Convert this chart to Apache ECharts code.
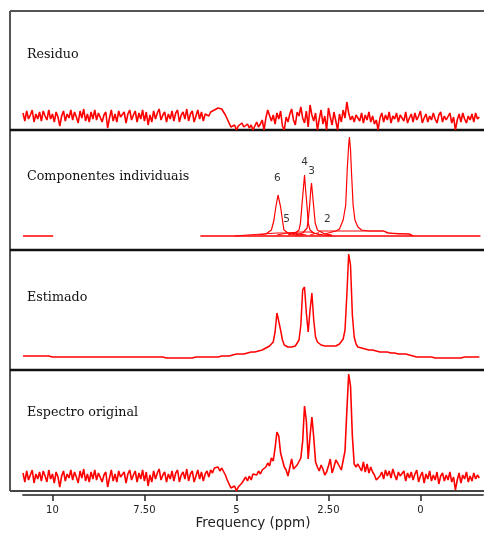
<!DOCTYPE html>
<html>
<head>
<meta charset="utf-8">
<script src="https://cdn.jsdelivr.net/npm/echarts@6/dist/echarts.min.js"></script>
<style>
  html, body { margin: 0; padding: 0; background: #fff; }
  #main { width: 484px; height: 533px; }
</style>
</head>
<body>
<div id="main"></div>
<script>
// ppm grid shared by the sampled spectra (step 0.05)
var ppm = [
  10.8,10.75,10.7,10.65,10.6,10.55,10.5,10.45,10.4,10.35,
  10.3,10.25,10.2,10.15,10.1,10.05,10,9.95,9.9,9.85,
  9.8,9.75,9.7,9.65,9.6,9.55,9.5,9.45,9.4,9.35,
  9.3,9.25,9.2,9.15,9.1,9.05,9,8.95,8.9,8.85,
  8.8,8.75,8.7,8.65,8.6,8.55,8.5,8.45,8.4,8.35,
  8.3,8.25,8.2,8.15,8.1,8.05,8,7.95,7.9,7.85,
  7.8,7.75,7.7,7.65,7.6,7.55,7.5,7.45,7.4,7.35,
  7.3,7.25,7.2,7.15,7.1,7.05,7,6.95,6.9,6.85,
  6.8,6.75,6.7,6.65,6.6,6.55,6.5,6.45,6.4,6.35,
  6.3,6.25,6.2,6.15,6.1,6.05,6,5.95,5.9,5.85,
  5.8,5.75,5.7,5.65,5.6,5.55,5.5,5.45,5.4,5.35,
  5.3,5.25,5.2,5.15,5.1,5.05,5,4.95,4.9,4.85,
  4.8,4.75,4.7,4.65,4.6,4.55,4.5,4.45,4.4,4.35,
  4.3,4.25,4.2,4.15,4.1,4.05,4,3.95,3.9,3.85,
  3.8,3.75,3.7,3.65,3.6,3.55,3.5,3.45,3.4,3.35,
  3.3,3.25,3.2,3.15,3.1,3.05,3,2.95,2.9,2.85,
  2.8,2.75,2.7,2.65,2.6,2.55,2.5,2.45,2.4,2.35,
  2.3,2.25,2.2,2.15,2.1,2.05,2,1.95,1.9,1.85,
  1.8,1.75,1.7,1.65,1.6,1.55,1.5,1.45,1.4,1.35,
  1.3,1.25,1.2,1.15,1.1,1.05,1,0.95,0.9,0.85,
  0.8,0.75,0.7,0.65,0.6,0.55,0.5,0.45,0.4,0.35,
  0.3,0.25,0.2,0.15,0.1,0.05,0,-0.05,-0.1,-0.15,
  -0.2,-0.25,-0.3,-0.35,-0.4,-0.45,-0.5,-0.55,-0.6,-0.65,
  -0.7,-0.75,-0.8,-0.85,-0.9,-0.95,-1,-1.05,-1.1,-1.15,
  -1.2,-1.25,-1.3,-1.35,-1.4,-1.45,-1.5,-1.55,-1.6
];

// Residuo
var residuo = [
  17,9,19,11,15,20,8,16,11,18,9,19,14,10,20,11,16,8,18,13,
  4,14,19,9,16,12,20,10,18,13,7,19,12,21,9,16,8,18,11,20,
  10,17,19,8,15,18,2,12,20,9,16,8,19,13,11,18,7,16,20,10,
  15,19,8,17,11,20,9,18,5,15,8,19,11,17,21,10,15,18,8,16,
  11,19,9,17,20,8,15,18,11,21,9,16,19,8,14,20,11,18,9,16,
  17,14,18,16,20,19,22,24,21,19,15,11,7,3,1,5,0,4,2,7,
  3,1,6,2,5,0,4,8,3,6,10,0,
  12,20,18,9,15,6,17,11,19,4,0,13,8,16,21,10,5,18,14,23,
  12,7,19,3,25,15,9,17,0,11,20,6,14,0,22,13,5,18,9,0,
  16,8,20,12,28,17,10,14,8,15,
  13,9,17,7,15,10,18,8,14,6,10,0,12,17,8,15,10,18,7,14,
  11,17,8,15,13,9,18,7,12,16,8,17,10,14,19,7,12,16,8,14,
  10,17,11,7,15,18,8,14,10,12,17,7,13,0,10,16,8,17,11,7,
  14,10,16,8,17,11,13
];

// Estimado
var estimado = [
  14,14,14,14,14,14,14,14,14,14,14,14,14,14,14,
  13,13,13,13,13,13,13,13,13,13,13,13,13,13,13,13,13,13,13,13,13,
  13,13,13,13,13,13,13,13,13,13,13,13,13,13,13,13,13,13,13,13,13,
  13,13,13,13,13,13,13,13,13,13,13,13,13,13,13,13,13,13,13,13,
  12,12,12,12,12,12,12,12,12,12,12,12,12,12,12,12,12,
  13,13,13,13,13,13,13,13,13,13,13,13,13,13,
  14,14,14,14,14,14,
  15,16,16,16,16,16,16,16,17,17,
  18,18,
  18,18,19,19,20,21,22,23,24,26,
  28,38,57,58,40,30,25,24,23,23,
  23,23,24,26,30,45,80,83,57,38,
  60,77,50,33,28,26,25,24,24,24,
  24,24,24,24,24,25,26,28,31,40,
  75,116,105,55,33,26,23,
  22,22,21,21,21,20,20,20,19,19,19,18,18,18,18,18,18,17,17,17,17,16,16,16,16,16,16,15,
  15,14,13,13,13,13,13,13,13,13,13,13,13,
  12,12,12,12,12,12,12,12,12,12,12,12,12,12,12,
  13,13,13,13,13,13,13,13,13,13
];

// Espectro original
var original = [
  18,9,20,11,16,21,8,17,12,19,10,20,15,9,21,12,17,8,19,14,
  4,15,20,10,17,13,21,11,19,14,8,20,13,22,10,17,9,19,12,21,
  11,18,20,9,16,19,4,13,21,10,17,9,20,14,12,19,8,17,21,11,
  16,20,9,18,12,21,10,19,5,16,9,20,12,18,22,11,16,19,9,17,
  12,20,10,18,21,9,16,19,12,22,10,17,20,9,15,21,12,19,10,17,
  20,14,21,18,23,21,24,20,23,21,16,11,7,3,1,5,0,4,2,8,
  9,14,10,15,11,17,
  18,16,20,17,21,19,24,28,25,33,
  30,43,59,55,38,31,24,21,15,17,
  32,22,20,26,24,33,50,85,70,32,
  55,74,54,29,24,20,26,22,16,19,
  25,32,18,24,31,28,30,21,22,40,
  80,117,105,55,27,24,27,
  26,20,29,19,27,18,24,19,16,11,9,15,
  19,12,21,15,20,13,22,16,11,19,15,
  14,20,10,18,13,19,11,17,21,9,15,19,8,17,12,20,10,16,11,19,
  7,15,18,10,16,11,19,9,14,1,11,18,8,16,12,19,9,15,10,18,
  12,16,13
];

// Componentes individuais: [ppm, intensidade]
var compBaseLeft = [[10.8, 14], [9.98, 14]];
var compBaseRight = [[5.98, 14], [-1.63, 14]];
var compBroad = [[5.05, 14], [4.7, 15], [4.3, 16], [3.9, 17], [3.6, 17], [3.3, 18], [3.0, 18], [2.8, 16], [2.6, 15], [2.4, 14]];
var comp6 = [[4.4, 15], [4.2, 16], [4.05, 20], [3.98, 30], [3.93, 43], [3.87, 55], [3.8, 43], [3.75, 30], [3.71, 20], [3.6, 17], [3.4, 15], [3.2, 15]];
var comp5 = [[3.9, 15], [3.75, 16], [3.62, 17], [3.45, 17], [3.3, 16], [3.1, 15]];
var comp4 = [[3.6, 15], [3.4, 17], [3.3, 20], [3.26, 27], [3.22, 45], [3.18, 62], [3.15, 75], [3.12, 60], [3.08, 43], [3.05, 27], [3.0, 20], [2.9, 17], [2.7, 15]];
var comp3 = [[3.4, 15], [3.2, 17], [3.08, 22], [3.04, 33], [3.01, 45], [2.98, 60], [2.96, 67], [2.93, 55], [2.9, 43], [2.86, 27], [2.8, 20], [2.6, 16], [2.4, 15]];
var comp2 = [[3.0, 15], [2.8, 17], [2.72, 19], [2.5, 19], [1.0, 19], [0.85, 17], [0.3, 16], [0.25, 14]];
var comp1 = [[2.6, 16], [2.3, 19], [2.2, 21], [2.1, 30], [2.03, 45], [1.99, 80], [1.95, 105], [1.93, 113], [1.9, 100], [1.87, 75], [1.83, 45], [1.78, 30], [1.7, 23], [1.6, 20], [1.4, 19], [1.0, 19], [0.9, 17], [0.6, 16], [0.28, 16], [0.2, 14]];

// numeros dos picos
var peakNames = ['6', '5', '4', '3', '2'];
var peakPpm = [3.89, 3.64, 3.15, 2.96, 2.53];
var peakH = [72, 31, 88, 79, 31];

var panelTitles = ['Residuo', 'Componentes individuais', 'Estimado', 'Espectro original'];
var tickValues = [10, 7.5, 5, 2.5, 0];
var tickLabels = ['10', '7.50', '5', '2.50', '0'];

function pairs(ys) {
  return ys.map(function (y, i) { return [ppm[i], y]; });
}

var myChart = echarts.init(document.getElementById('main'));

// last panel reaches down to the axis line (y=495), hence yMin -4
var panelTop = [10, 130, 250, 371];
var panelHeight = [120, 120, 120, 124];
var panelYMin = [0, 0, 0, -4];
var titleY = [56, 178, 299, 414];
var red = '#ff0000';

var grids = [], xAxes = [], yAxes = [];
panelTop.forEach(function (t, k) {
  var isBottom = k === 3;
  grids.push({ left: 23, right: 1, top: t, height: panelHeight[k] });
  xAxes.push({
    type: 'value', gridIndex: k, min: -1.7, max: 10.8, inverse: true,
    show: isBottom,
    axisLine: { show: true, onZero: false, lineStyle: { color: '#555', width: 1.8 } },
    axisTick: { show: true, length: 6, customValues: tickValues, lineStyle: { color: '#222', width: 1.5 } },
    axisLabel: {
      customValues: tickValues, margin: 10, color: '#222', fontSize: 10,
      fontFamily: 'DejaVu Sans',
      formatter: function (v) { return tickLabels[tickValues.indexOf(v)]; }
    },
    splitLine: { show: false },
    name: isBottom ? 'Frequency (ppm)' : '',
    nameLocation: 'middle', nameGap: 21,
    nameTextStyle: { fontFamily: 'DejaVu Sans', fontSize: 13.5, color: '#222' }
  });
  yAxes.push({ type: 'value', gridIndex: k, min: panelYMin[k], max: 120, show: false });
});

function line(data, k, w) {
  return {
    type: 'line', xAxisIndex: k, yAxisIndex: k, data: data,
    showSymbol: false, symbol: 'none', silent: true,
    lineStyle: { color: red, width: w }
  };
}

var series = [
  line(pairs(residuo), 0, 1.6),
  line(compBaseLeft, 1, 1.3),
  line(compBaseRight, 1, 1.3),
  line(compBroad, 1, 1),
  line(comp6, 1, 1.2),
  line(comp5, 1, 1),
  line(comp4, 1, 1.2),
  line(comp3, 1, 1.2),
  line(comp2, 1, 1),
  line(comp1, 1, 1.2),
  line(pairs(estimado), 2, 1.5),
  line(pairs(original), 3, 1.6),
  {
    type: 'scatter', xAxisIndex: 1, yAxisIndex: 1, symbolSize: 0, silent: true,
    data: peakNames.map(function (n, i) { return { value: [peakPpm[i], peakH[i]], name: n }; }),
    label: {
      show: true, position: 'inside', formatter: '{b}',
      fontFamily: 'DejaVu Sans', fontSize: 10.5, color: '#000'
    }
  }
];

var graphics = [
  { type: 'line', shape: { x1: 10, y1: 11, x2: 484, y2: 11 }, style: { stroke: '#555', lineWidth: 2 } },
  { type: 'line', shape: { x1: 10, y1: 11, x2: 10, y2: 491 }, style: { stroke: '#555', lineWidth: 2 } },
  { type: 'line', shape: { x1: 10, y1: 130, x2: 484, y2: 130 }, style: { stroke: '#111', lineWidth: 2.5 } },
  { type: 'line', shape: { x1: 10, y1: 250, x2: 484, y2: 250 }, style: { stroke: '#111', lineWidth: 2.5 } },
  { type: 'line', shape: { x1: 10, y1: 370, x2: 484, y2: 370 }, style: { stroke: '#111', lineWidth: 2.5 } },
  { type: 'line', shape: { x1: 10, y1: 491, x2: 484, y2: 491 }, style: { stroke: '#444', lineWidth: 2 } }
];
panelTitles.forEach(function (s, k) {
  graphics.push({
    type: 'text', left: 27, top: titleY[k] - 8,
    style: { text: s, fontFamily: 'DejaVu Serif', fontSize: 12.7, fill: '#111' }
  });
});

myChart.setOption({
  animation: false,
  grid: grids,
  xAxis: xAxes,
  yAxis: yAxes,
  series: series,
  graphic: graphics
});
</script>
</body>
</html>
